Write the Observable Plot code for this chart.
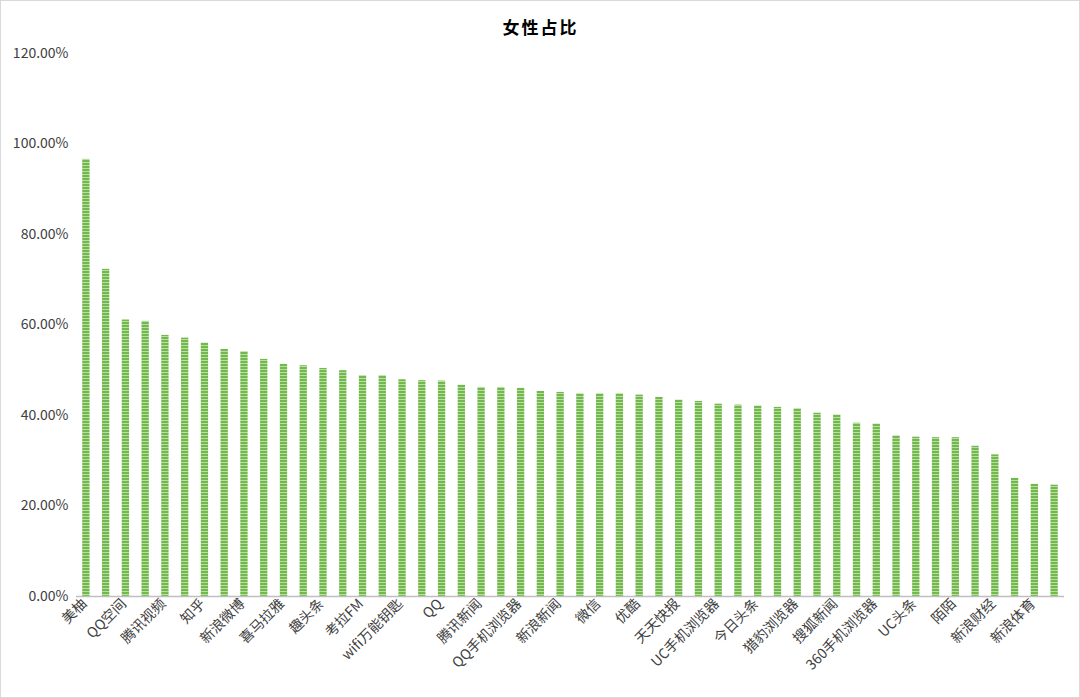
<!DOCTYPE html>
<html>
<head>
<meta charset="utf-8">
<script src="https://cdn.jsdelivr.net/npm/d3@7"></script>
<script src="https://cdn.jsdelivr.net/npm/@observablehq/plot@0.6"></script>
<style>
  html, body { margin: 0; padding: 0; background: #fff; }
  #chart { width: 1080px; height: 698px; box-sizing: border-box; border: 1px solid #d9d9d9; overflow: hidden; }
  #chart svg { display: block; }
</style>
</head>
<body>
<div id="chart"></div>
<script>
const title = "女性占比";
// Labels shown on the axis (every other category)
const shownLabels = ["美柚", "QQ空间", "腾讯视频", "知乎", "新浪微博", "喜马拉雅", "趣头条", "考拉FM",
  "wifi万能钥匙", "QQ", "腾讯新闻", "QQ手机浏览器", "新浪新闻", "微信", "优酷", "天天快报",
  "UC手机浏览器", "今日头条", "猎豹浏览器", "搜狐新闻", "360手机浏览器", "UC头条", "陌陌", "新浪财经", "新浪体育"];
// Female share per app (50 bars, in display order)
const values = [0.966, 0.723, 0.611, 0.608, 0.577, 0.571, 0.560, 0.546, 0.541, 0.524,
  0.513, 0.510, 0.504, 0.499, 0.488, 0.488, 0.479, 0.477, 0.476, 0.467,
  0.462, 0.462, 0.460, 0.453, 0.451, 0.448, 0.448, 0.448, 0.445, 0.440,
  0.434, 0.431, 0.425, 0.423, 0.421, 0.418, 0.415, 0.405, 0.401, 0.383,
  0.381, 0.355, 0.352, 0.351, 0.351, 0.332, 0.313, 0.261, 0.248, 0.246];
const yTicks = [0, 0.2, 0.4, 0.6, 0.8, 1.0, 1.2];

const data = values.map((v, i) => ({i, v}));
const tickIdx = shownLabels.map((_, k) => k * 2);

const font = "'Noto Sans CJK SC', 'Noto Sans', sans-serif";

const chart = Plot.plot({
  width: 1078,
  height: 696,
  marginLeft: 75,
  marginRight: 15,
  marginTop: 52,
  marginBottom: 101,
  style: {fontFamily: font, fontSize: "14px", color: "#404040", background: "#fff"},
  x: {type: "band", domain: d3.range(values.length), paddingInner: 0.63, paddingOuter: 0.315, label: null},
  y: {domain: [0, 1.2], label: null},
  marks: [
    Plot.axisY({ticks: yTicks, tickFormat: d => (d * 100).toFixed(2) + "%", tickSize: 0, tickPadding: 8,
      fontSize: 14, fill: "#404040"}),
    Plot.axisX({ticks: tickIdx, tickFormat: i => shownLabels[i / 2], tickRotate: -45, tickSize: 0,
      tickPadding: 5, fontSize: 14, fill: "#404040", textAnchor: "end", dx: -2}),
    Plot.barY(data, {x: "i", y: "v", fill: "url(#stripes)"}),
    Plot.ruleY([0], {stroke: "#bfbfbf", strokeWidth: 1.5}),
    Plot.text([title], {frameAnchor: "top", dx: -30, dy: -32, fontSize: 17, fontWeight: "bold", fill: "#000",
      className: "chart-title"})
  ]
});

// horizontal stripe pattern for bar fill
const ns = "http://www.w3.org/2000/svg";
const defs = document.createElementNS(ns, "defs");
const pat = document.createElementNS(ns, "pattern");
pat.setAttribute("id", "stripes");
pat.setAttribute("patternUnits", "userSpaceOnUse");
pat.setAttribute("width", "8");
pat.setAttribute("height", "3");
const r1 = document.createElementNS(ns, "rect");
r1.setAttribute("width", "8"); r1.setAttribute("height", "3"); r1.setAttribute("fill", "#72b84c");
const r2 = document.createElementNS(ns, "rect");
r2.setAttribute("width", "8"); r2.setAttribute("height", "1"); r2.setAttribute("y", "2"); r2.setAttribute("fill", "#b8dfa2");
pat.appendChild(r1); pat.appendChild(r2);
defs.appendChild(pat);
chart.insertBefore(defs, chart.firstChild);
chart.querySelectorAll(".chart-title text").forEach(t => t.style.letterSpacing = "2px");

document.getElementById("chart").appendChild(chart);
</script>
</body>
</html>
